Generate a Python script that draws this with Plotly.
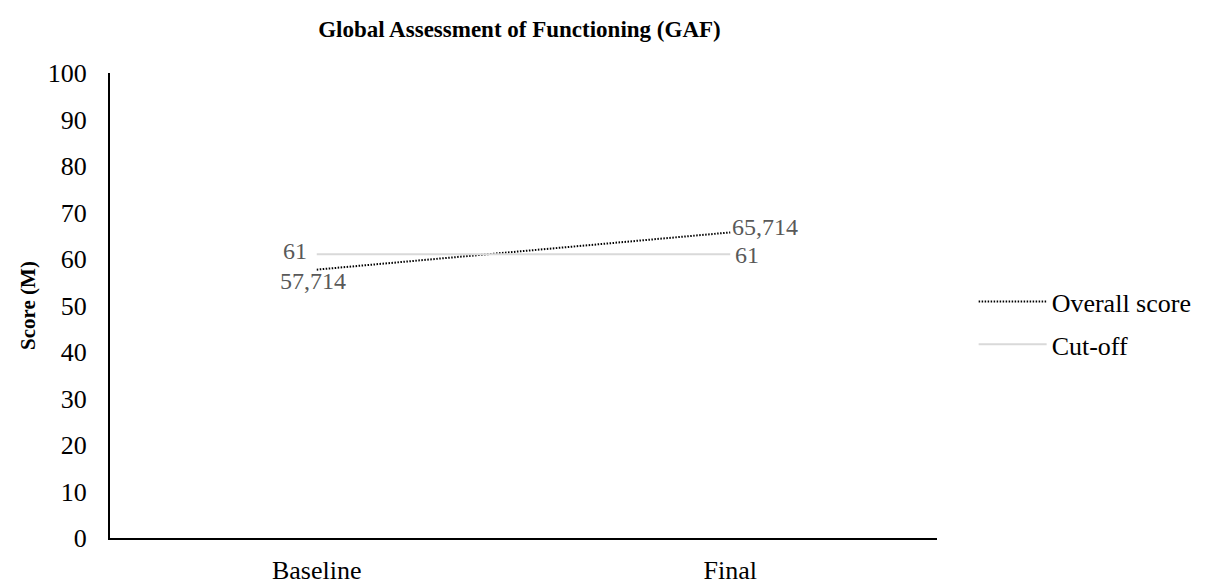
import plotly.graph_objects as go

# GAF scores by assessment point
timepoints = ["Baseline", "Final"]
overall_score = [57.714, 65.714]
cutoff = [61, 61]

FONT = "Liberation Serif, Times New Roman, serif"
LABEL_FONT = dict(family=FONT, size=24, color="#595959")


def comma_decimal(v, digits):
    return f"{v:.{digits}f}".replace(".", ",")


fig = go.Figure()

fig.add_trace(go.Scatter(
    x=timepoints, y=overall_score, name="Overall score",
    legendgroup="overall", mode="lines",
    line=dict(color="#000000", width=2, dash="1.5px,1.5px"),
))

fig.add_trace(go.Scatter(
    x=timepoints, y=cutoff, name="Cut-off",
    legendgroup="cutoff", mode="lines",
    line=dict(color="#d9d9d9", width=2),
))

# data labels placed beside each point
fig.add_annotation(x=timepoints[0], y=overall_score[0], text=comma_decimal(overall_score[0], 3),
                   xanchor="center", yanchor="middle", xshift=-4, yshift=-11,
                   showarrow=False, font=LABEL_FONT)
fig.add_annotation(x=timepoints[1], y=overall_score[1], text=comma_decimal(overall_score[1], 3),
                   xanchor="left", yanchor="middle", xshift=0, yshift=5,
                   showarrow=False, font=LABEL_FONT)
fig.add_annotation(x=timepoints[0], y=cutoff[0], text=f"{cutoff[0]}",
                   xanchor="right", yanchor="middle", xshift=-8, yshift=3,
                   showarrow=False, font=LABEL_FONT)
fig.add_annotation(x=timepoints[1], y=cutoff[1], text=f"{cutoff[1]}",
                   xanchor="left", yanchor="middle", xshift=3, yshift=-1,
                   showarrow=False, font=LABEL_FONT)

fig.update_layout(
    width=1208, height=587,
    margin=dict(l=110, r=271, t=73, b=49),
    paper_bgcolor="white", plot_bgcolor="white",
    font=dict(family=FONT, size=26, color="#000000"),
    title=dict(text="<b>Global Assessment of Functioning (GAF)</b>",
               x=0.43, xanchor="center", y=0.95, yanchor="middle",
               font=dict(family=FONT, size=23, color="#000000")),
    showlegend=True,
    legend=dict(xref="container", x=0.806, xanchor="left",
                y=0.462, yanchor="middle",
                font=dict(family=FONT, size=26, color="#000000"),
                tracegroupgap=6, itemwidth=68),
)

fig.update_xaxes(
    type="category", range=[-0.5, 1.5], automargin=False,
    showline=True, linecolor="#000000", linewidth=2,
    showgrid=False, ticks="", zeroline=False,
    tickfont=dict(family=FONT, size=26, color="#000000"),
    ticklabelstandoff=8,
)

fig.update_yaxes(
    range=[0, 100], dtick=10, automargin=False,
    showline=True, linecolor="#000000", linewidth=2,
    showgrid=False, ticks="", zeroline=False,
    tickfont=dict(family=FONT, size=26, color="#000000"),
    ticklabelstandoff=16,
    title=dict(text="<b>Score (M)</b>", font=dict(family=FONT, size=21, color="#000000"),
               standoff=6),
)

fig.write_html("out.html")
